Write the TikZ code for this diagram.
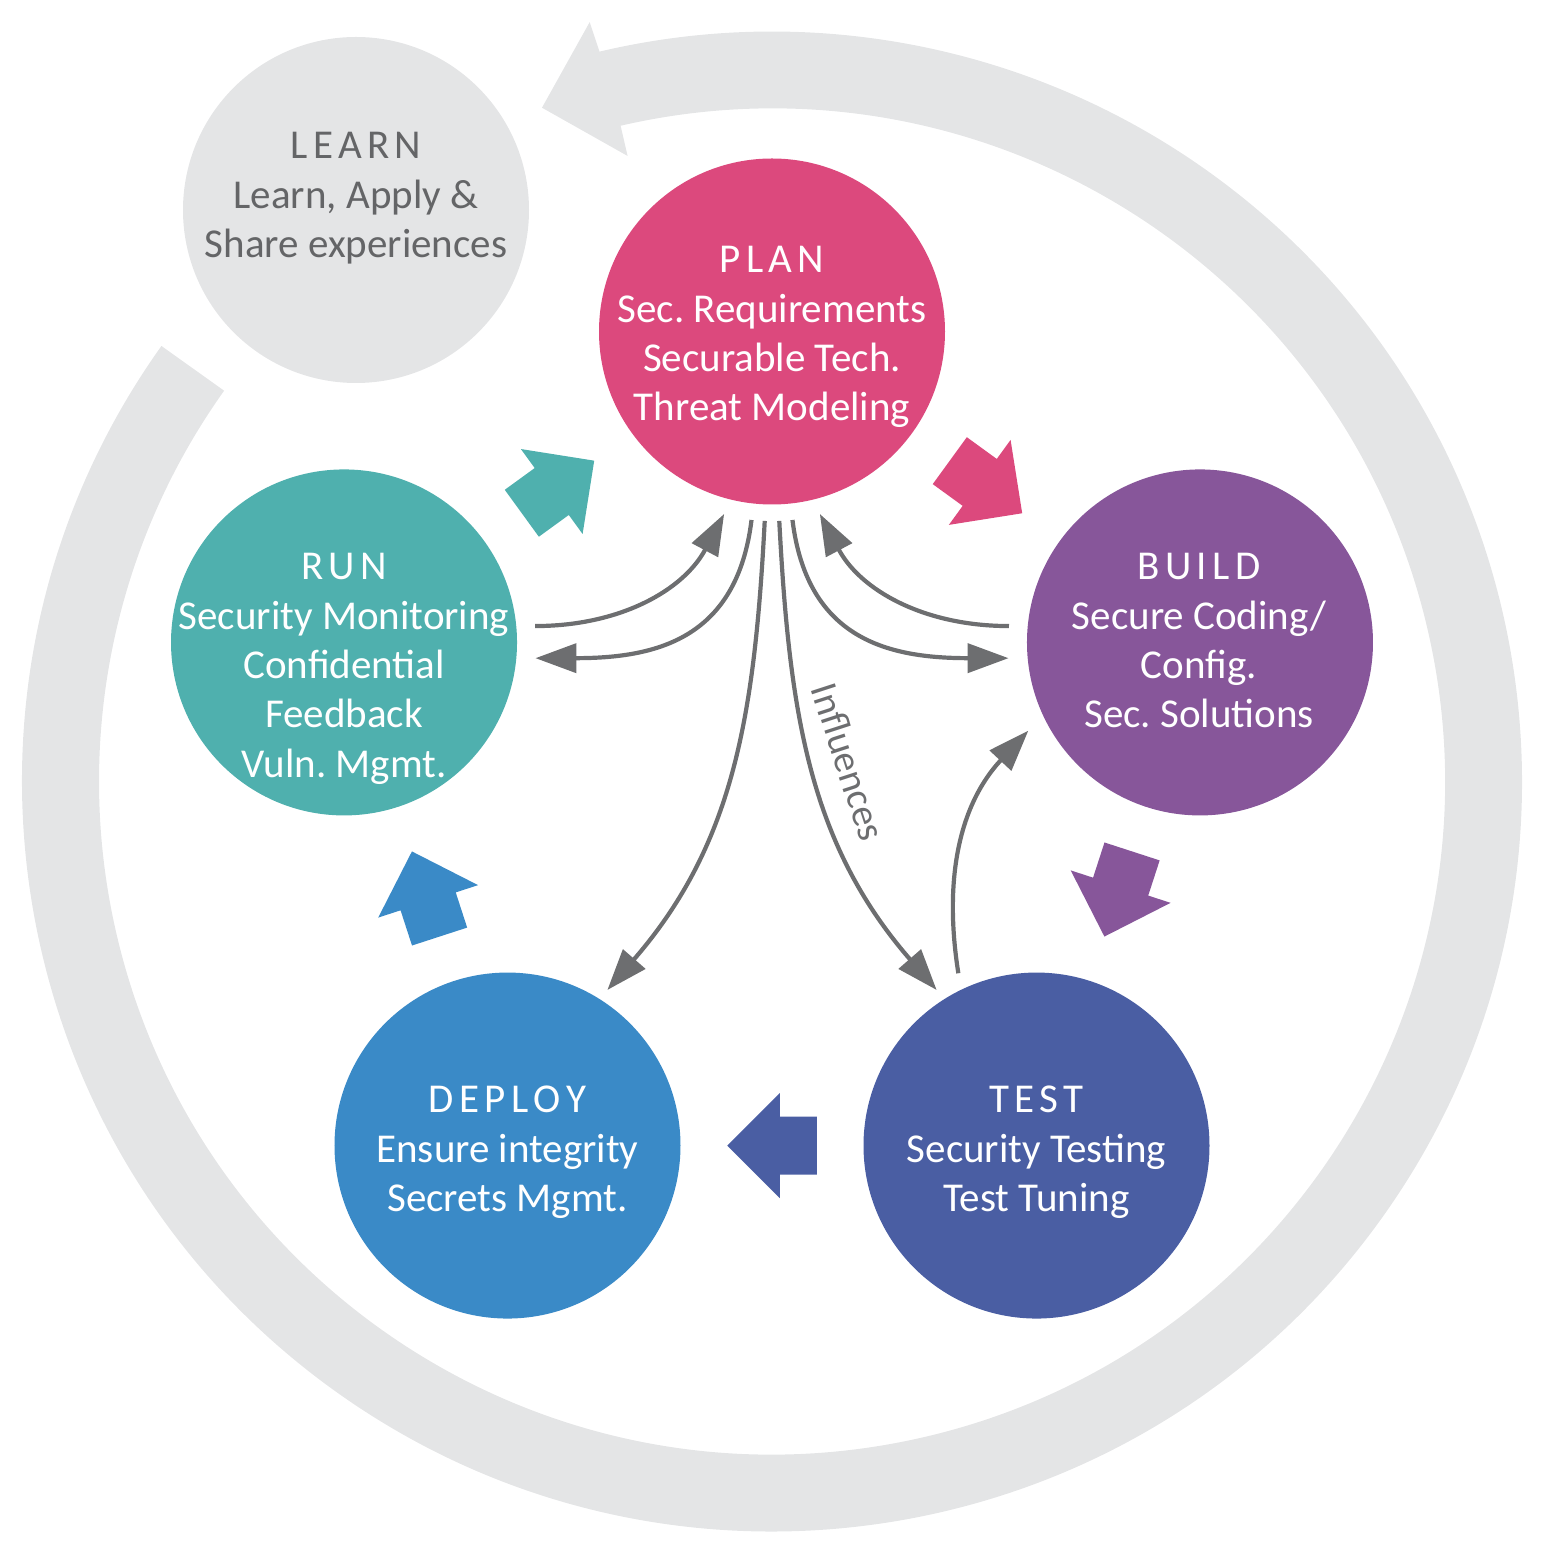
\documentclass[tikz,border=0pt]{standalone}
\usepackage{fontspec}
\setmainfont{Carlito}
\usetikzlibrary{calc,arrows.meta}
\definecolor{ringgray}{HTML}{E4E5E6}
\definecolor{arrgray}{HTML}{6D6E70}
\definecolor{txtgray}{HTML}{646567}
\definecolor{planc}{HTML}{DC497D}
\definecolor{buildc}{HTML}{87569A}
\definecolor{testc}{HTML}{4A5EA3}
\definecolor{deployc}{HTML}{3A8AC7}
\definecolor{runc}{HTML}{4FB0AE}
\frenchspacing
\newcommand\tk{\kern2.65pt}
\newcommand\phasetext[5]{%
  \foreach \t [count=\i from 0] in {#5} {%
    \node[txt, text=#4] (#1-\i) at ({#2},{#3-49.3*\i}) {\t};}}
\newcommand\blockarrow[4]{%
  \fill[#4, shift={($(#1)!0.5!(#2)$)}, rotate=#3]
    (44.75,0) -- (-7.75,52.5) -- (-7.75,29) -- (-44.75,29) --
    (-44.75,-29) -- (-7.75,-29) -- (-7.75,-52.5) -- cycle;}
\begin{document}
\begin{tikzpicture}[x=0.5pt,y=0.5pt,
  phase/.style={circle, minimum size=173pt, inner sep=0pt, draw=none, fill=#1},
  txt/.style={anchor=base, inner sep=0pt, font=\fontsize{20.5pt}{24pt}\selectfont\frenchspacing},
  conn/.style={draw=arrgray, line width=2.1pt, -{Triangle[length=20.5pt,width=14.5pt]}},
  lbl/.style={anchor=base, inner sep=0pt, text=arrgray, font=\fontsize{19.5pt}{22pt}\selectfont}
]
\useasboundingbox (0,0) rectangle (1550,1560);
\coordinate (C) at (772,778.5);
% big feedback ring with arrow head
\fill[ringgray] ($(C)+(144.5:750)$) arc[start angle=144.5, end angle=463.3, radius=750]
  -- ($(C)+(463.5:781)$) -- ($(C)+(468.85:712)$) -- ($(C)+(463:642)$) -- ($(C)+(463:673)$)
  arc[start angle=463, end angle=144.5, radius=673] -- cycle;
% phases
\node[phase=ringgray] (learn) at (356,1350) {};
\node[phase=planc] (plan) at ($(C)+(90:450)$) {};
\node[phase=buildc] (build) at ($(C)+(18:450)$) {};
\node[phase=testc] (test) at ($(C)+(-54:450)$) {};
\node[phase=deployc] (deploy) at ($(C)+(-126:450)$) {};
\node[phase=runc] (run) at ($(C)+(162:450)$) {};
% texts
\phasetext{learnt}{356}{1401}{txtgray}{{L\tk E\tk A\tk R\tk N},{Learn, Apply \&},{Share experiences}}
\phasetext{plant}{772}{1287}{white}{{P\tk L\tk A\tk N},{Sec. Requirements},{Securable Tech.},{Threat Modeling}}
\phasetext{buildt}{1199}{980}{white}{{B\tk U\tk I\tk L\tk D},{Secure Coding/},{Config.},{Sec. Solutions}}
\phasetext{runt}{344}{980}{white}{{R\tk U\tk N},{Security Monitoring},{Confidential},{Feedback},{Vuln. Mgmt.}}
\phasetext{testt}{1036.5}{447}{white}{{T\tk E\tk S\tk T},{Security Testing},{Test Tuning}}
\phasetext{deployt}{507.5}{447}{white}{{D\tk E\tk P\tk L\tk O\tk Y},{Ensure integrity},{Secrets Mgmt.}}
% block arrows between phases
\blockarrow{run}{plan}{36}{runc}
\blockarrow{plan}{build}{-36}{planc}
\blockarrow{build}{test}{-108}{buildc}
\blockarrow{test}{deploy}{180}{testc}
\blockarrow{deploy}{run}{108}{deployc}
% influence connectors
\draw[conn] ($(run)+(4.9:191.7)$) to[out=0,in=242] ($(plan)+(255.3:188.7)$);
\draw[conn] ($(plan)+(263.8:189.6)$) to[out=263,in=0,looseness=1.2] ($(run)+(355.3:192.1)$);
\draw[conn] ($(plan)+(276.2:189.6)$) to[out=277,in=180,looseness=1.2] ($(build)+(184.7:192.1)$);
\draw[conn] ($(build)+(175.1:191.7)$) to[out=180,in=298] ($(plan)+(284.7:188.7)$);
\draw[conn] ($(plan)+(267.8:189.6)$) to[out=267,in=49] ($(deploy)+(57.3:184.9)$);
\draw[conn] ($(plan)+(272.2:189.6)$) to[out=273,in=131] ($(test)+(122.7:184.9)$);
\draw[conn] ($(test)+(114.4:189.2)$) to[out=99,in=227] ($(build)+(207.2:193)$);
\node[lbl, rotate=-72] (infl) at (836,794) {Influences};
\end{tikzpicture}
\end{document}
